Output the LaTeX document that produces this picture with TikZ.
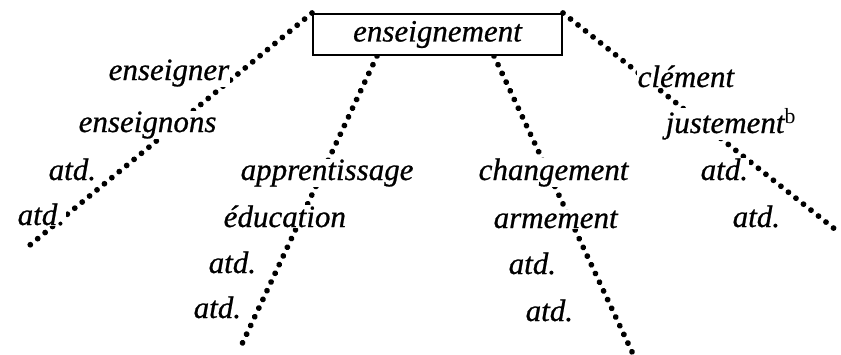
\documentclass[tikz,border=0pt]{standalone}
\usepackage{fontspec}
\setmainfont{Liberation Serif}
\usetikzlibrary{backgrounds,decorations.markings}
\newfontfamily\wordfam{Liberation Serif}[ItalicFeatures={FakeBold=0.7}]
\newcommand{\wordfont}{\wordfam\fontsize{31}{36}\selectfont\itshape}
\tikzset{
  dotline/.style={decoration={markings,
      mark=between positions 0 and 1 step 9.6pt with {\fill (0,0) circle (2.9pt);}},
    decorate},
  word/.style={anchor=base west, fill=white, inner sep=0.5pt, font=\wordfont},
  headbox/.style={draw, line width=2pt, fill=white, inner sep=0pt,
    minimum width=249pt, minimum height=41pt, font=\wordfont}
}
\begin{document}
\begin{tikzpicture}[x=1pt, y=-1pt]
  \useasboundingbox (0,0) rectangle (841,354);
  \node[headbox] (head) at (437.5,34.5) {enseignement};
  % left branch
  \node[word] (a1) at (108,80) {enseigner};
  \node[word] (a2) at (78,132) {enseignons};
  \node[word] (a3) at (48,180) {atd.};
  \node[word] (a4) at (17,225) {atd.};
  % second branch
  \node[word] (b1) at (240,180) {apprentissage};
  \node[word] (b2) at (223,227) {éducation};
  \node[word] (b3) at (208,273) {atd.};
  \node[word] (b4) at (193,318) {atd.};
  % third branch
  \node[word] (c1) at (478,180) {changement};
  \node[word] (c2) at (493,228) {armement};
  \node[word] (c3) at (508,274) {atd.};
  \node[word] (c4) at (525,321) {atd.};
  % right branch
  \node[word] (d1) at (637,87) {clément};
  \node[word] (d2) at (665,133) {justement\textsuperscript{\upshape b}};
  \node[word] (d3) at (700,180) {atd.};
  \node[word] (d4) at (732,227) {atd.};
  \coordinate (endA) at (30,245);
  \coordinate (endB) at (242,344);
  \coordinate (endC) at (633,354);
  \coordinate (endD) at (841,234);
  \begin{scope}[on background layer]
    \draw[dotline] (head.north west) -- (endA);
    \draw[dotline] ([xshift=65pt]head.south west) -- (endB);
    \draw[dotline] ([xshift=182pt]head.south west) -- (endC);
    \draw[dotline] (head.north east) -- (endD);
  \end{scope}
\end{tikzpicture}
\end{document}
